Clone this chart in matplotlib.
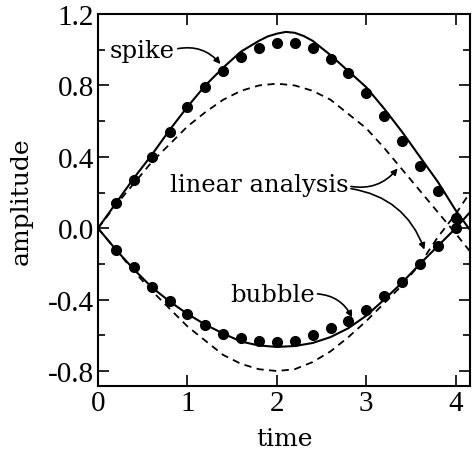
import numpy as np
import matplotlib
matplotlib.use("Agg")
import matplotlib.pyplot as plt

# courbe "spike" (trait plein, partie haute)
t_spike = [0.0, 0.2, 0.4, 0.6, 0.8, 1.0, 1.2, 1.4, 1.6, 1.8, 1.9, 2.0, 2.1, 2.2,
           2.3, 2.4, 2.6, 2.8, 3.0, 3.2, 3.4, 3.6, 3.8, 4.0, 4.16]
y_spike = [0.0, 0.14, 0.28, 0.41, 0.55, 0.68, 0.80, 0.90, 0.99, 1.05, 1.075, 1.09,
           1.10, 1.095, 1.077, 1.05, 0.97, 0.88, 0.79, 0.67, 0.54, 0.40, 0.26, 0.10, -0.01]

# courbe "bubble" (trait plein, partie basse)
t_bubble = [0.0, 0.2, 0.4, 0.6, 0.8, 1.0, 1.2, 1.4, 1.6, 1.8, 2.0, 2.2,
            2.4, 2.6, 2.8, 3.0, 3.2, 3.4, 3.6, 3.8, 4.0, 4.16]
y_bubble = [0.0, -0.12, -0.23, -0.33, -0.41, -0.48, -0.54, -0.59, -0.635, -0.657,
            -0.665, -0.66, -0.643, -0.61, -0.56, -0.49, -0.40, -0.305, -0.20,
            -0.10, 0.0, 0.09]

# analyse linéaire (tirets)
t_lin = [0.0, 0.2, 0.4, 0.6, 0.8, 1.0, 1.2, 1.4, 1.6, 1.8, 2.0, 2.2, 2.4,
         2.6, 2.8, 3.0, 3.2, 3.4, 3.6, 3.8, 4.0, 4.16]
y_lin_up = [0.0, 0.13, 0.25, 0.37, 0.47, 0.57, 0.65, 0.72, 0.77, 0.80, 0.81,
            0.80, 0.77, 0.72, 0.64, 0.56, 0.45, 0.33, 0.21, 0.09, -0.03, -0.13]
y_lin_dn = [0.0, -0.12, -0.24, -0.35, -0.45, -0.55, -0.63, -0.71, -0.76, -0.79,
            -0.80, -0.79, -0.75, -0.69, -0.61, -0.52, -0.42, -0.32, -0.20,
            -0.05, 0.08, 0.20]

# points (simulation)
t_dots = [0.2, 0.4, 0.6, 0.8, 1.0, 1.2, 1.4, 1.6, 1.8, 2.0, 2.2, 2.4, 2.6,
          2.8, 3.0, 3.2, 3.4, 3.6, 3.8, 4.0]
y_dots_up = [0.14, 0.27, 0.40, 0.54, 0.68, 0.79, 0.88, 0.96, 1.01, 1.04, 1.04,
             1.01, 0.95, 0.87, 0.76, 0.63, 0.49, 0.35, 0.21, 0.06]
y_dots_dn = [-0.12, -0.22, -0.33, -0.41, -0.48, -0.54, -0.59, -0.615, -0.63,
             -0.64, -0.63, -0.60, -0.56, -0.52, -0.46, -0.38, -0.30, -0.20,
             -0.10, 0.0]

yticks = [-0.8, -0.4, 0.0, 0.4, 0.8, 1.2]
ylabels = ['-0.8', '-0.4', '0.0', '0.4', '0.8', '1.2']
xticks = [0, 1, 2, 3, 4]

fig = plt.figure(figsize=(4.72, 4.56), dpi=100)
ax = fig.add_axes([0.2076, 0.1513, 0.7882, 0.8157])

ax.plot(t_spike, y_spike, 'k-', lw=1.5)
ax.plot(t_bubble, y_bubble, 'k-', lw=1.5)
ax.plot(t_lin, y_lin_up, 'k--', lw=1.3, dashes=(4, 3))
ax.plot(t_lin, y_lin_dn, 'k--', lw=1.3, dashes=(4, 3))
ax.plot(t_dots, y_dots_up, 'ko', ms=7)
ax.plot(t_dots, y_dots_dn, 'ko', ms=7)

ax.set_xlim(0, 4.16)
ax.set_ylim(-0.884, 1.2)

tick_font = dict(family='Liberation Serif', size=21)
ax.set_xticks(xticks)
ax.set_xticklabels([str(v) for v in xticks], fontdict=tick_font)
ax.set_yticks(yticks)
ax.set_yticklabels(ylabels, fontdict=tick_font)
ax.set_yticks(np.arange(-0.6, 1.2, 0.4), minor=True)
ax.tick_params(which='both', direction='in', top=True, right=True, width=1.2)
ax.tick_params(which='major', length=8, pad=3)
ax.tick_params(which='minor', length=5)
for s in ax.spines.values():
    s.set_linewidth(1.5)

lab_font = dict(family='DejaVu Serif', size=18)
ax.set_xlabel('time', fontdict=lab_font, labelpad=8)
ax.set_ylabel('amplitude', fontdict=lab_font, labelpad=11)

arr = dict(arrowstyle='-|>', color='k', lw=1.2, mutation_scale=9, shrinkA=0, shrinkB=0)
ax.annotate('spike', xy=(1.37, 0.92), xytext=(0.134, 0.96), fontsize=17.5,
            family='DejaVu Serif', va='baseline',
            arrowprops=dict(arr, connectionstyle='arc3,rad=-0.3', relpos=(1.0, 0.55)))
ax.annotate('linear analysis', xy=(3.35, 0.335), xytext=(0.80, 0.207), fontsize=17.5,
            family='DejaVu Serif', va='baseline',
            arrowprops=dict(arr, connectionstyle='arc3,rad=0.3', relpos=(1.0, 0.45)))
ax.annotate('linear analysis', xy=(3.65, -0.12), xytext=(0.80, 0.207), fontsize=17.5,
            family='DejaVu Serif', va='baseline', alpha=0,
            arrowprops=dict(arr, alpha=1, connectionstyle='arc3,rad=-0.3', relpos=(1.0, 0.35)))
ax.annotate('bubble', xy=(2.84, -0.50), xytext=(1.475, -0.41), fontsize=17.5,
            family='DejaVu Serif', va='baseline',
            arrowprops=dict(arr, connectionstyle='arc3,rad=-0.3', relpos=(1.0, 0.55)))

fig.savefig('out.png', dpi=100)
